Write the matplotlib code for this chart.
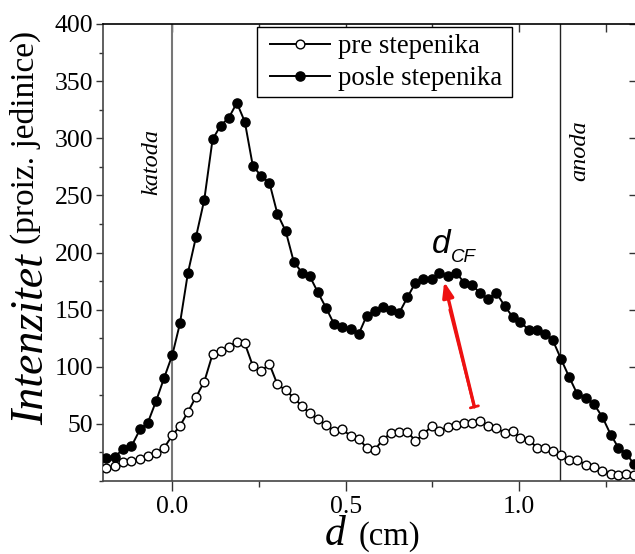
import matplotlib
matplotlib.use("Agg")
import matplotlib.pyplot as plt
from matplotlib.patches import Rectangle
from matplotlib.ticker import MultipleLocator

plt.rcParams["font.family"] = ["Liberation Serif", "DejaVu Serif"]

# polozaj (cm)
d_cm = [
    -0.191, -0.165, -0.142, -0.118, -0.093, -0.071, -0.047, -0.024, 0.000, 0.022,
    0.045, 0.068, 0.092, 0.116, 0.139, 0.163, 0.186, 0.209, 0.232, 0.256,
    0.280, 0.303, 0.327, 0.350, 0.374, 0.396, 0.420, 0.443, 0.467, 0.490,
    0.514, 0.538, 0.560, 0.583, 0.607, 0.631, 0.654, 0.678, 0.701, 0.724,
    0.748, 0.770, 0.794, 0.818, 0.842, 0.865, 0.888, 0.910, 0.934, 0.958,
    0.981, 1.004, 1.028, 1.052, 1.074, 1.097, 1.121, 1.145, 1.168, 1.192,
    1.216, 1.240, 1.264, 1.286, 1.309, 1.330,
]

pre = [
    11.4, 12.9, 16.7, 17.5, 19.6, 21.7, 24.9, 28.9, 40.0, 48.2,
    60.5, 73.6, 86.8, 111.0, 113.7, 117.5, 121.8, 120.4, 100.8, 96.2,
    102.3, 84.5, 79.5, 72.8, 65.5, 59.1, 54.1, 48.8, 43.8, 45.3,
    39.4, 36.6, 29.3, 26.9, 36.3, 42.1, 43.0, 43.0, 35.1, 40.9,
    48.2, 43.8, 47.3, 48.8, 51.2, 51.2, 52.3, 48.0, 46.5, 42.1,
    43.6, 38.0, 35.7, 29.3, 29.3, 26.3, 22.5, 18.1, 18.1, 14.4,
    12.3, 8.8, 6.5, 5.0, 6.5, 5.0,
]

posle = [
    20.5, 21.0, 28.4, 30.4, 45.3, 50.8, 69.9, 90.0, 110.4, 138.0,
    182.3, 213.4, 246.0, 299.0, 311.0, 318.0, 331.0, 314.4, 275.9, 267.0,
    261.0, 233.8, 218.6, 192.0, 182.3, 179.4, 165.0, 151.7, 137.0, 134.5,
    133.0, 129.0, 144.4, 149.0, 152.5, 150.0, 147.0, 160.8, 173.6, 176.5,
    176.8, 182.3, 179.4, 182.3, 173.6, 171.5, 164.3, 159.3, 164.8, 153.4,
    143.8, 139.4, 132.0, 132.0, 129.0, 123.3, 106.7, 90.6, 76.0, 73.0,
    67.2, 56.1, 40.7, 29.3, 24.0, 15.3,
]

KATODA = 0.0
ANODA = 1.118

W, H = 635, 554
fig = plt.figure(figsize=(W / 100, H / 100), dpi=100)
ax = fig.add_axes([103 / W, 1 - 481 / H, 534 / W, 457 / H])


def ax_frac(px, py):
    # piksel slike -> udeo ose
    return (px - 103) / 534, (481 - py) / 457


ax.axvline(KATODA, color="#777777", lw=1.5, zorder=1)
ax.axvline(ANODA, color="#222222", lw=1.0, zorder=1)

ax.plot(d_cm, pre, "-o", color="black", lw=1.4, ms=6.3, mfc="white",
        mec="black", mew=1.0, label="pre stepenika", zorder=3)
ax.plot(d_cm, posle, "-o", color="black", lw=1.4, ms=6.6, mfc="black",
        mec="black", label="posle stepenika", zorder=3)

ax.set_xlim(-0.2, 1.34)
ax.set_ylim(0, 400)
ax.xaxis.set_minor_locator(MultipleLocator(0.25))
ax.yaxis.set_minor_locator(MultipleLocator(25))
ax.set_xticks([0.0, 0.5, 1.0])
ax.set_xticklabels(["0.0", "0.5", "1.0"])
ax.set_yticks([50, 100, 150, 200, 250, 300, 350, 400])

ax.tick_params(axis="both", which="both", labelsize=18.5, color="#333333")
ax.tick_params(axis="x", which="major", direction="out", length=7, width=1, pad=4)
ax.tick_params(axis="x", which="minor", direction="out", length=4, width=1)
ax.tick_params(axis="y", which="major", direction="out", length=5, width=1, pad=2)
ax.tick_params(axis="y", which="minor", direction="out", length=3, width=1)

for side in ["left", "bottom"]:
    ax.spines[side].set_color("#444444")
    ax.spines[side].set_linewidth(1.2)
ax.spines["top"].set_color("black")
ax.spines["top"].set_linewidth(1.2)
ax.spines["right"].set_visible(False)

# mirror ticks on top and right (inward)
top = ax.secondary_xaxis("top")
top.set_xticks([-0.25, 0.0, 0.25, 0.5, 0.75, 1.0, 1.25])
top.tick_params(direction="in", length=6, width=1, labeltop=False, color="#333333")
top.spines["top"].set_visible(False)
right = ax.secondary_yaxis("right")
right.set_yticks([50, 100, 150, 200, 250, 300, 350, 400])
right.tick_params(direction="in", length=6, width=1, labelright=False, color="#333333")
right.spines["right"].set_visible(False)

ax.text(-0.058, 279, "katoda", rotation=90, fontsize=17.5, style="italic",
        ha="center", va="center")
ax.text(1.176, 289, "anoda", rotation=90, fontsize=17.5, style="italic",
        ha="center", va="center")

# d_CF oznaka
ax.text(0.749, 199.6, "d", fontsize=24, style="italic", family="Liberation Sans",
        ha="left", va="baseline")
ax.text(0.803, 191.7, "CF", fontsize=13.5, style="italic", family="Liberation Sans",
        ha="left", va="baseline")

ax.annotate("", xy=(0.784, 174.4), xytext=(0.871, 64.9),
            arrowprops=dict(arrowstyle="-|>,head_length=0.9,head_width=0.33",
                            color="#ee1111", lw=2.4, shrinkA=0, shrinkB=0))
ax.annotate("", xy=(0.80, 150), xytext=(0.871, 64.9),
            arrowprops=dict(arrowstyle="]-,widthA=0.3,lengthA=0",
                            color="#ee1111", lw=2.0, shrinkA=0, shrinkB=0))

# legenda: bez okvira, okvir crtan posebno
leg = ax.legend(loc="upper left", bbox_to_anchor=ax_frac(270, 34),
                borderaxespad=0, borderpad=0, fontsize=19.3, frameon=False,
                handlelength=2.25, handletextpad=0.3, labelspacing=0.26)
x0, y0 = ax_frac(257, 97)
x1, y1 = ax_frac(512, 27)
ax.add_patch(Rectangle((x0, y0), x1 - x0, y1 - y0, transform=ax.transAxes,
                       fill=True, facecolor="white", edgecolor="black", lw=1.0,
                       zorder=4))
leg.set_zorder(5)

# axis labels
fig.text(32 / W, 1 - 340 / H, "Intenzitet", rotation=90, fontsize=33,
         style="italic", ha="center", va="center")
fig.text(25 / W, 1 - 137 / H, "(proiz. jedinice)", rotation=90, fontsize=24,
         ha="center", va="center")
fig.text(335 / W, 1 - 545 / H, "d", fontsize=30, style="italic",
         ha="center", va="baseline")
fig.text(389 / W, 1 - 545 / H, "(cm)", fontsize=23.5, ha="center", va="baseline")

fig.savefig("out.png", dpi=100)
